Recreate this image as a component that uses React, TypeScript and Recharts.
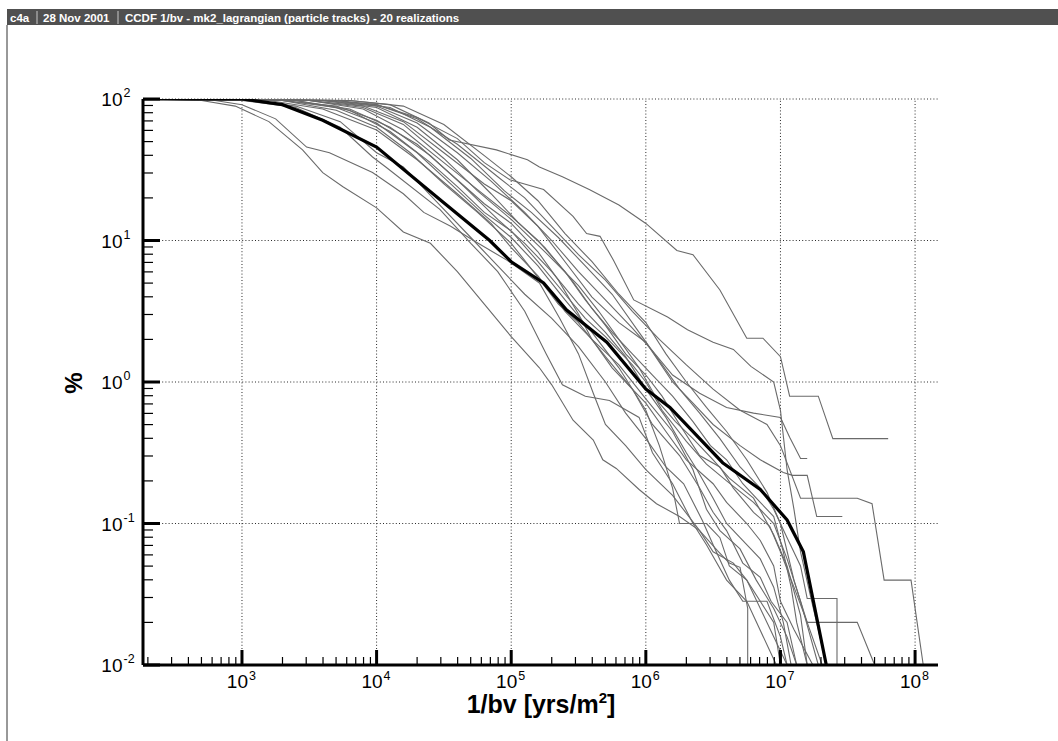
import { LineChart, Line, XAxis, YAxis, ReferenceLine } from 'recharts'

// x = 1/bv [yrs/m2], p = CCDF [%]
const meanCurve = [
  [184, 100], [1000, 100], [2000, 91.2], [3980, 70.8], [1e4, 45.7], [2.95e4, 19.5], [6.92e4, 10],
  [1e5, 7.08], [1.74e5, 5.01], [2.57e5, 3.24], [5.13e5, 1.91], [1e6, 0.891], [1.51e6, 0.661],
  [3.72e6, 0.269], [7.08e6, 0.174], [1.12e7, 0.106], [1.48e7, 0.063], [2.19e7, 0.01],
]

const r01 = [
  [184, 100], [501, 97.7], [891, 89.1], [1585, 69.2], [2818, 43.7], [3981, 30.2], [5623, 24.0],
  [1e4, 17.0], [1.58e4, 11.5], [2.51e4, 9.55], [3.98e4, 6.03], [6.31e4, 3.55], [1e5, 2.09],
  [1.62e5, 1.26], [2.0e5, 0.955], [2.88e5, 0.537], [4.07e5, 0.389], [4.79e5, 0.282], [6.03e5, 0.245],
  [8.91e5, 0.174], [1.2e6, 0.138], [1.78e6, 0.112], [2.51e6, 0.0891], [3.39e6, 0.0646],
  [4.17e6, 0.0525], [5.01e6, 0.049], [5.71e6, 0.0251], [5.71e6, 0.01],
]
const r02 = [
  [184, 100], [631, 97.7], [1000, 91.2], [1778, 72.4], [3020, 45.7], [4467, 41.7], [9333, 30.2],
  [1.58e4, 21.4], [2.24e4, 15.8], [3.55e4, 12.6], [5.25e4, 10], [9.33e4, 7.24], [1.62e5, 5.01],
  [2.29e5, 2.82], [3.16e5, 1.58], [4.07e5, 0.832], [5.01e5, 0.501], [7.08e5, 0.355], [1e6, 0.24],
  [1.58e6, 0.158], [2.51e6, 0.0891], [3.16e6, 0.0631], [4.47e6, 0.0525], [5.62e6, 0.0398],
  [7.94e6, 0.02], [1.12e7, 0.01],
]
const r03 = [
  [184, 100], [1000, 97.7], [2512, 87.1], [5370, 63.1], [9333, 38.9], [1.17e4, 33.1], [2.95e4, 16.6],
  [5.01e4, 9.55], [7.94e4, 6.03], [1.26e5, 3.16], [1.82e5, 1.58], [2.4e5, 0.955], [3.55e5, 0.794],
  [5.37e5, 0.741], [8.91e5, 0.562], [1.12e6, 0.316], [1.58e6, 0.191], [2.24e6, 0.1], [2.82e6, 0.0708],
  [3.98e6, 0.0398], [5.62e6, 0.0282], [9.33e6, 0.01],
]
const r04 = [
  [184, 100], [1000, 99], [2512, 89.1], [5370, 69.2], [1e4, 41.7], [1.58e4, 33.1], [2.95e4, 17.8],
  [5.01e4, 10.5], [7.94e4, 6.61], [1.26e5, 4.17], [2.0e5, 2.82], [3.16e5, 1.78], [5.01e5, 1.0],
  [7.08e5, 0.603], [1e6, 0.398], [1.41e6, 0.251], [1.91e6, 0.191], [2.63e6, 0.105], [3.16e6, 0.0708],
  [4.17e6, 0.0398], [5.25e6, 0.0282], [7.94e6, 0.0282], [1e7, 0.0158], [1.12e7, 0.01],
]
const r05 = [
  [184, 100], [1585, 97.7], [3981, 85.1], [1e4, 60.3], [2.0e4, 37.2], [3.98e4, 21.4], [7.08e4, 13.2],
  [1e5, 8.91], [1.58e5, 5.62], [2.51e5, 3.16], [3.98e5, 2.0], [6.31e5, 1.32], [1e6, 0.759],
  [1.58e6, 0.447], [2.24e6, 0.24], [2.82e6, 0.126], [3.55e6, 0.0891], [5.01e6, 0.0661],
  [6.61e6, 0.0398], [8.91e6, 0.0251], [1.12e7, 0.0158], [1.32e7, 0.01],
]
const r06 = [
  [184, 100], [1995, 97.7], [5012, 83.2], [1e4, 63.1], [1.78e4, 41.7], [3.16e4, 25.1], [5.62e4, 15.8],
  [1e5, 9.55], [1.41e5, 6.31], [2.24e5, 3.55], [3.16e5, 2.63], [5.01e5, 1.51], [7.94e5, 0.891],
  [1e6, 0.708], [1.41e6, 0.447], [2.0e6, 0.282], [3.16e6, 0.191], [3.98e6, 0.141], [5.62e6, 0.1],
  [7.08e6, 0.0759], [8.91e6, 0.0501], [1e7, 0.0282], [1.26e7, 0.0178], [1.74e7, 0.01],
]
const r07 = [
  [184, 100], [2512, 97.7], [6310, 83.2], [1.26e4, 58.9], [2.51e4, 35.5], [3.98e4, 24.0], [6.31e4, 15.8],
  [1e5, 11.7], [1.58e5, 7.08], [2.51e5, 4.17], [3.55e5, 2.82], [5.01e5, 2.09], [7.94e5, 1.32],
  [1e6, 1.0], [1.32e6, 0.631], [2.0e6, 0.38], [2.82e6, 0.263], [3.98e6, 0.2], [6.31e6, 0.141],
  [8.91e6, 0.1], [1.12e7, 0.0562], [1.41e7, 0.0282], [1.91e7, 0.01],
]
const r08 = [
  [184, 100], [1995, 97.7], [5012, 89.1], [1e4, 70.8], [2.0e4, 47.9], [3.55e4, 29.5], [6.31e4, 18.2],
  [1e5, 13.2], [1.58e5, 8.32], [2.24e5, 5.25], [3.16e5, 3.02], [3.98e5, 2.0], [5.62e5, 1.26],
  [7.94e5, 0.891], [1.12e6, 0.501], [1.78e6, 0.302], [2.51e6, 0.178], [3.16e6, 0.12], [3.98e6, 0.0891],
  [5.25e6, 0.0525], [7.08e6, 0.0417], [8.51e6, 0.0282], [1.12e7, 0.02], [1.32e7, 0.01],
]
const r09 = [
  [184, 100], [3162, 97.7], [7943, 85.1], [1.58e4, 60.3], [3.16e4, 35.5], [5.62e4, 22.9], [1e5, 14.8],
  [1.58e5, 10], [2.51e5, 6.03], [3.55e5, 3.8], [5.01e5, 2.51], [7.08e5, 1.58], [1e6, 1.12],
  [1.32e6, 0.794], [1.78e6, 0.501], [2.51e6, 0.302], [3.55e6, 0.251], [4.47e6, 0.178], [6.31e6, 0.12],
  [8.32e6, 0.0955], [1e7, 0.0631], [1.26e7, 0.0355], [1.58e7, 0.02], [2.04e7, 0.01],
]
const r10 = [
  [184, 100], [3981, 97.7], [1e4, 89.1], [2.0e4, 67.6], [3.98e4, 41.7], [7.08e4, 26.3], [1.26e5, 15.8],
  [2.0e5, 10], [3.16e5, 6.03], [5.01e5, 3.8], [7.94e5, 2.4], [1.12e6, 1.66], [1.58e6, 1.12],
  [2.51e6, 0.832], [3.98e6, 0.661], [6.31e6, 0.603], [1e7, 0.562], [1.17e7, 0.407], [1.41e7, 0.288],
  [1.58e7, 0.288],
]
const r11 = [
  [184, 100], [3162, 97.7], [7943, 89.1], [1.58e4, 69.2], [3.16e4, 41.7], [6.31e4, 25.1], [1e5, 19.1],
  [1.58e5, 12.6], [2.51e5, 7.08], [3.98e5, 3.98], [6.31e5, 2.63], [1e6, 1.91], [1.58e6, 1.0],
  [2.24e6, 0.708], [3.16e6, 0.501], [5.01e6, 0.355], [7.08e6, 0.282], [1.05e7, 0.229], [1.23e7, 0.219],
  [1.58e7, 0.219], [1.86e7, 0.112], [2.88e7, 0.112],
]
const r12 = [
  [184, 100], [3981, 97.7], [1e4, 91.2], [2.0e4, 72.4], [3.98e4, 47.9], [7.94e4, 28.2], [1.26e5, 20.0],
  [2.0e5, 12.6], [3.16e5, 7.94], [5.01e5, 5.25], [7.94e5, 3.16], [1.26e6, 2.0], [2.0e6, 1.32],
  [3.16e6, 0.891], [5.01e6, 0.631], [7.94e6, 0.501], [1e7, 0.355], [1.41e7, 0.151], [3.72e7, 0.151],
  [4.79e7, 0.138], [5.89e7, 0.0398], [9.33e7, 0.0398], [1.15e8, 0.01],
]
const r13 = [
  [184, 100], [6310, 97.7], [1.26e4, 91.2], [2.45e4, 67.6], [3.47e4, 51.3], [7.76e4, 43.7],
  [1.32e5, 37.2], [1.62e5, 33.1], [2.4e5, 28.2], [3.8e5, 22.9], [6.31e5, 17.8], [1e6, 13.2],
  [1.7e6, 8.51], [2.24e6, 7.94], [3.55e6, 4.47], [5.62e6, 2.04], [7.41e6, 2.04], [1e7, 1.51],
  [1.17e7, 0.794], [1.91e7, 0.794], [2.45e7, 0.398], [6.31e7, 0.398],
]
const r14 = [
  [184, 100], [5012, 97.7], [1e4, 91.2], [2.0e4, 74.1], [3.98e4, 52.5], [6.31e4, 35.5], [9.77e4, 26.9],
  [1.74e5, 22.9], [2.88e5, 14.8], [3.63e5, 11.2], [4.57e5, 10.7], [5.75e5, 7.24], [8.13e5, 3.8],
  [1.45e6, 2.88], [2.04e6, 2.34], [3.16e6, 1.91], [4.47e6, 1.7], [6.03e6, 1.29], [8.91e6, 1.0],
  [1e7, 0.631], [1.12e7, 0.24], [1.26e7, 0.126], [1.41e7, 0.0631], [1.66e7, 0.0316], [1.91e7, 0.0178],
  [2.19e7, 0.01],
]
const r15 = [
  [184, 100], [3162, 97.7], [7943, 87.1], [1.58e4, 66.1], [3.16e4, 38.0], [5.62e4, 22.4], [1e5, 14.1],
  [1.78e5, 8.32], [3.16e5, 4.79], [4.47e5, 3.16], [6.31e5, 2.0], [8.91e5, 1.26], [1.26e6, 0.708],
  [1.66e6, 0.525], [2.24e6, 0.398], [3.16e6, 0.282], [4.17e6, 0.209], [6.31e6, 0.151], [8.91e6, 0.0832],
  [1.12e7, 0.0501], [1.41e7, 0.0224], [1.58e7, 0.01],
]
const r16 = [
  [184, 100], [2512, 97.7], [6310, 85.1], [1.26e4, 63.1], [2.51e4, 39.8], [4.47e4, 24.0], [7.94e4, 14.1],
  [1.26e5, 9.55], [2.0e5, 6.03], [3.16e5, 3.55], [5.01e5, 2.24], [7.08e5, 1.51], [1e6, 0.891],
  [1.41e6, 0.562], [2.0e6, 0.316], [2.4e6, 0.24], [3.16e6, 0.151], [3.98e6, 0.1], [5.01e6, 0.0794],
  [7.08e6, 0.0562], [8.91e6, 0.0355], [1.05e7, 0.02], [1.2e7, 0.01],
]
const r17 = [
  [184, 100], [1995, 97.7], [5012, 87.1], [1e4, 67.6], [2.0e4, 41.7], [3.55e4, 25.1], [6.31e4, 15.1],
  [1e5, 10.5], [1.58e5, 6.61], [2.51e5, 3.8], [3.98e5, 2.24], [6.31e5, 1.26], [1e6, 0.631],
  [1.26e6, 0.355], [1.58e6, 0.178], [1.78e6, 0.1], [2.82e6, 0.1], [3.55e6, 0.0794], [4.17e6, 0.0501],
  [5.62e6, 0.0398], [7.08e6, 0.0282], [8.91e6, 0.02], [1e7, 0.01],
]
const r18 = [
  [184, 100], [3981, 97.7], [1e4, 87.1], [2.0e4, 63.1], [3.98e4, 37.2], [7.08e4, 21.4], [1.12e5, 13.5],
  [1.78e5, 8.91], [2.82e5, 5.25], [3.98e5, 3.31], [5.62e5, 2.24], [7.94e5, 1.58], [1.12e6, 1.12],
  [1.58e6, 0.794], [2.24e6, 0.525], [3.02e6, 0.355], [3.98e6, 0.282], [5.25e6, 0.191], [7.08e6, 0.141],
  [8.91e6, 0.112], [1.05e7, 0.0631], [1.2e7, 0.0355], [1.32e7, 0.02], [1.58e7, 0.01],
]
const r19 = [
  [184, 100], [5012, 97.7], [1.26e4, 87.1], [2.51e4, 63.1], [5.01e4, 38.0], [8.91e4, 22.4], [1.41e5, 15.8],
  [2.24e5, 10.5], [3.55e5, 6.61], [5.62e5, 4.17], [8.91e5, 2.24], [1.26e6, 1.41], [1.78e6, 0.891],
  [2.51e6, 0.603], [3.55e6, 0.398], [5.01e6, 0.251], [7.08e6, 0.178], [8.91e6, 0.126], [1.12e7, 0.0794],
  [1.41e7, 0.0501], [1.58e7, 0.0295], [2.63e7, 0.0295], [2.63e7, 0.01],
]
const r20 = [
  [184, 100], [6310, 97.7], [1.58e4, 89.1], [3.16e4, 66.1], [6.31e4, 39.8], [1e5, 28.2], [1.58e5, 19.1],
  [2.51e5, 11.2], [3.98e5, 7.08], [6.31e5, 4.17], [1e6, 2.63], [1.41e6, 1.58], [2.0e6, 1.0],
  [2.82e6, 0.661], [3.98e6, 0.447], [5.62e6, 0.282], [7.94e6, 0.166], [1e7, 0.1], [1.26e7, 0.0398],
  [1.58e7, 0.02], [3.72e7, 0.02], [5.01e7, 0.01],
]

const realizations = [r01, r02, r03, r04, r05, r06, r07, r08, r09, r10, r11, r12, r13, r14, r15, r16, r17, r18, r19, r20]

const xDomain = [184, 1.48e8]
const yDomain = [0.01, 100]
const xDecades = [1e2, 1e3, 1e4, 1e5, 1e6, 1e7, 1e8]
const yDecades = [0.01, 0.1, 1, 10, 100]
const minorSteps = [2, 3, 4, 5, 6, 7, 8, 9]

const xTicks = xDecades
  .flatMap((d) => [d, ...minorSteps.map((s) => s * d)])
  .filter((v) => v >= xDomain[0] && v <= xDomain[1])
const yTicks = yDecades
  .flatMap((d) => [d, ...minorSteps.map((s) => s * d)])
  .filter((v) => v >= yDomain[0] && v <= yDomain[1])

const xGrid = [1e3, 1e4, 1e5, 1e6, 1e7, 1e8]
const yGrid = [0.1, 1, 10, 100]

const FONT = '"Liberation Sans", Arial, Helvetica, sans-serif'
const GREY = '#6a6a6a'
const GRID = { stroke: '#2a2a2a', strokeDasharray: '1 2.2', strokeWidth: 1 }

const toRows = (pts: number[][]) => pts.map(([x, p]) => ({ x, p }))

function decade(v: number) {
  const e = Math.round(Math.log10(v))
  return { e, major: Math.abs(Math.log10(v) - e) < 1e-6 }
}

function XTick(props: any) {
  const { x, y, payload } = props
  const { e, major } = decade(payload.value)
  return (
    <g>
      <line x1={x} x2={x} y1={y} y2={y - (major ? 15 : 8)} stroke="#000" strokeWidth={major ? 3 : 1.2} />
      {major && (
        <>
          <text x={x + 6} y={y + 23} textAnchor="end" fontSize={19} fontFamily={FONT} fill="#000">10</text>
          <text x={x + 7} y={y + 15} textAnchor="start" fontSize={12.5} fontFamily={FONT} fill="#000">{e}</text>
        </>
      )}
    </g>
  )
}

function YTick(props: any) {
  const { x, y, payload } = props
  const { e, major } = decade(payload.value)
  return (
    <g>
      <line x1={x} x2={x + (major ? 17 : 10)} y1={y} y2={y} stroke="#000" strokeWidth={major ? 3 : 1.2} />
      {major && (
        <>
          <text x={x - 20.5} y={y + 7} textAnchor="end" fontSize={19} fontFamily={FONT} fill="#000">10</text>
          <text x={x - 19.5} y={y - 2} textAnchor="start" fontSize={12.5} fontFamily={FONT} fill="#000">{e}</text>
        </>
      )}
    </g>
  )
}

export default function App() {
  return (
    <div style={{ position: 'relative', width: 1058, height: 741, background: '#fff', fontFamily: FONT }}>
      <style>{'body{margin:0}'}</style>
      <LineChart width={1058} height={741} margin={{ top: 99, right: 120, bottom: 36, left: 83 }}>
        <XAxis
          dataKey="x"
          type="number"
          scale="log"
          domain={xDomain}
          allowDataOverflow
          ticks={xTicks}
          interval={0}
          height={40}
          tickSize={0}
          tickMargin={0}
          tickLine={false}
          axisLine={{ stroke: '#000', strokeWidth: 3 }}
          tick={<XTick />}
        />
        <YAxis
          dataKey="p"
          type="number"
          scale="log"
          domain={yDomain}
          allowDataOverflow
          ticks={yTicks}
          interval={0}
          width={60}
          tickSize={0}
          tickMargin={0}
          tickLine={false}
          axisLine={{ stroke: '#000', strokeWidth: 3 }}
          tick={<YTick />}
        />
        {xGrid.map((v) => (
          <ReferenceLine key={'gx' + v} x={v} {...GRID} />
        ))}
        {yGrid.map((v) => (
          <ReferenceLine key={'gy' + v} y={v} {...GRID} />
        ))}
        {realizations.map((r, i) => (
          <Line
            key={'r' + i}
            data={toRows(r)}
            dataKey="p"
            type="linear"
            stroke={GREY}
            strokeWidth={1.1}
            dot={false}
            activeDot={false}
            isAnimationActive={false}
          />
        ))}
        <Line
          data={toRows(meanCurve)}
          dataKey="p"
          type="linear"
          stroke="#000"
          strokeWidth={3.2}
          dot={false}
          activeDot={false}
          isAnimationActive={false}
        />
      </LineChart>
      <svg
        width={1058}
        height={741}
        style={{ position: 'absolute', left: 0, top: 0, pointerEvents: 'none' }}
        fontFamily={FONT}
      >
        <rect x={7} y={9} width={1051} height={16} fill="#505050" />
        <g fill="#fff" fontSize={11.5} fontWeight="bold">
          <text x={10} y={21.5}>c4a</text>
          <text x={43} y={21.5}>28 Nov 2001</text>
          <text x={125} y={21.5}>CCDF 1/bv - mk2_lagrangian (particle tracks) - 20 realizations</text>
        </g>
        <line x1={37} x2={37} y1={11} y2={24} stroke="#c8c8c8" />
        <line x1={118} x2={118} y1={11} y2={24} stroke="#c8c8c8" />
        <line x1={7} x2={7} y1={25} y2={741} stroke="#333" />
        <text transform="translate(82,383) rotate(-90)" textAnchor="middle" fontSize={24} fontWeight="bold">%</text>
        <text x={541} y={713} textAnchor="middle" fontSize={25} fontWeight="bold">
          1/bv [yrs/m<tspan dy={-10} fontSize={15}>2</tspan><tspan dy={10}>]</tspan>
        </text>
      </svg>
    </div>
  )
}
